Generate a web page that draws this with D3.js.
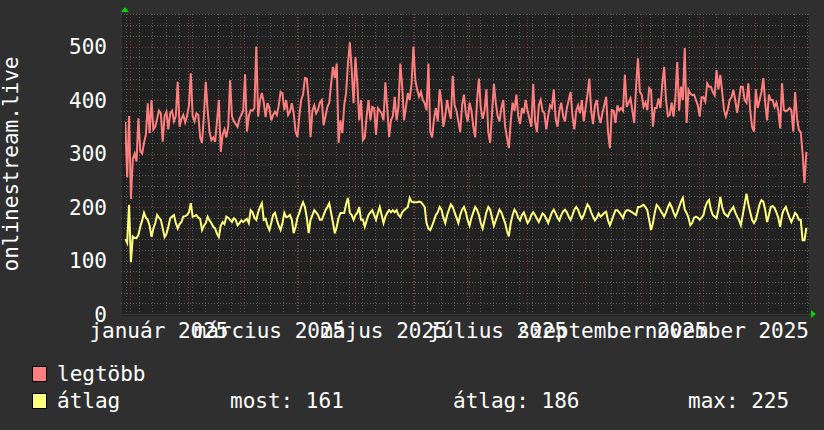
<!DOCTYPE html>
<html><head><meta charset="utf-8">
<script src="https://cdn.jsdelivr.net/npm/d3@7"></script>
<style>
html,body{margin:0;padding:0;background:#2f2f2f;}
svg{display:block;}
text{font-family:"DejaVu Sans Mono",monospace;fill:#ffffff;}
</style></head>
<body>
<svg id="chart" width="824" height="430"></svg>
<script>
// ---- data ----
const startDay = "2024-12-29"; // first daily sample
const yAxisTitle = "onlinestream.live";
const yTicks = [0, 100, 200, 300, 400, 500];
const monthLabels = ["január 2025", "március 2025", "május 2025", "július 2025", "szeptember 2025", "november 2025"];
const labelMonths = ["2025-01-01", "2025-03-01", "2025-05-01", "2025-07-01", "2025-09-01", "2025-11-01"];
const seriesNames = ["legtöbb", "átlag"];
const legendStats = ["most: 161", "átlag: 186", "max: 225"];

const maxValues = [
359,255,370,215,290,300,285,366,305,300,
320,335,394,338,400,345,350,365,380,375,
322,370,378,345,375,380,360,370,434,350,
365,372,358,370,390,450,370,360,375,372,
330,320,370,434,381,340,325,330,322,360,
400,303,335,345,330,350,437,370,360,355,
350,365,372,380,448,341,370,
381,380,385,500,369,400,413,395,368,394,
385,362,372,378,372,390,415,412,381,400,
372,378,394,375,341,331,370,400,410,441,
440,400,331,380,390,375,382,395,400,353,
370,387,395,430,462,441,468,320,362,338,
390,413,468,508,456,394,480,431,362,400,
325,330,370,400,362,387,385,335,385,380,
375,362,433,385,331,362,370,406,362,387,
468,425,362,387,413,400,431,500,437,419,
406,415,400,394,381,468,340,
330,365,385,360,420,395,350,370,400,380,
365,445,390,380,360,340,390,410,375,360,
395,380,350,330,400,440,385,365,380,420,
340,320,375,430,395,370,360,385,400,350,
330,310,360,395,380,410,370,355,385,375,
400,380,365,350,430,360,340,390,400,380,
375,345,370,390,385,420,365,350,380,395,
370,360,385,400,415,370,345,380,390,375,
400,360,385,410,440,380,355,390,400,370,
357,376,390,406,340,310,381,380,357,390,
380,385,380,447,387,395,403,380,357,425,
478,415,410,387,395,381,422,418,350,385,
385,403,385,430,462,400,370,372,395,369,
405,471,380,425,400,497,357,419,412,409,
410,400,390,369,405,405,397,431,425,425,
415,409,456,420,447,415,381,369,382,400,
405,419,400,376,400,425,425,400,395,431,
380,350,341,420,385,400,415,441,395,362,
410,400,400,387,395,380,347,431,381,379,
381,385,381,341,415,366,344,340,300,245,
303];

const avgValues = [
140,133,204,97,145,142,142,148,163,175,
189,180,176,165,144,160,170,185,180,176,
160,144,150,163,179,182,185,170,160,168,
172,182,183,185,190,207,182,183,185,180,
178,157,165,170,182,175,170,163,160,150,
144,165,172,168,182,180,176,172,179,176,
166,170,175,172,175,178,170,
194,190,180,176,190,200,207,176,178,165,
157,170,185,189,176,165,157,170,189,181,
182,185,176,151,163,180,189,200,209,200,
180,151,176,185,194,190,185,176,176,185,
194,200,207,189,170,151,163,180,189,189,
189,205,217,189,185,176,185,189,200,176,
176,163,175,185,190,194,185,176,189,200,
185,170,182,189,194,190,194,190,194,185,
181,190,194,197,200,217,210,209,209,209,
210,209,205,200,170,160,157,
165,175,185,190,200,195,180,170,185,195,
205,200,190,180,170,185,195,200,190,175,
165,180,190,200,195,185,170,160,175,190,
200,195,180,165,175,185,195,190,180,170,
155,145,170,185,195,190,180,175,185,190,
180,170,175,185,190,185,178,172,180,188,
185,178,170,180,190,195,188,180,175,185,
192,195,190,182,176,185,195,200,195,185,
178,185,195,205,200,190,182,175,180,188,
182,185,189,191,175,166,175,185,194,194,
190,185,179,190,194,194,192,190,187,185,
200,200,202,204,200,194,175,157,170,190,
204,200,194,188,182,190,200,207,200,190,
182,190,200,210,217,195,189,180,166,170,
180,182,180,176,180,185,200,209,213,195,
185,182,179,195,219,200,189,185,182,190,
195,200,190,182,176,166,185,205,225,205,
190,176,170,176,190,205,213,210,195,172,
185,200,202,198,190,180,163,185,195,200,
190,180,172,180,189,185,176,176,138,138,
161];

// ---- layout ----
const W = 824, H = 430;
const plot = {left: 125, right: 809, top: 14, bottom: 314};
const colors = {bg: "#2f2f2f", plotBg: "#212121", minor: "#5c5c5c", major: "#7d3a3a",
  max: "#ff7f7f", avg: "#ffff7f", arrow: "#00d000"};
const FONT = 21;

const svg = d3.select("#chart");
svg.append("rect").attr("width", W).attr("height", H).attr("fill", colors.bg);

const parse = d3.utcParse("%Y-%m-%d");
const t0 = parse(startDay);
const dates = maxValues.map((_, i) => d3.utcHour.offset(d3.utcDay.offset(t0, i), 12));

const x = d3.scaleUtc()
  .domain([d3.utcHour.offset(t0, 8), d3.utcHour.offset(d3.utcDay.offset(t0, 365), 22)])
  .range([plot.left, plot.right]);
const y = d3.scaleLinear().domain([0, 500]).range([plot.bottom, 46.5]);
const yTop = y.invert(plot.top);

svg.append("rect").attr("x", plot.left - 3).attr("y", plot.top)
  .attr("width", plot.right - plot.left + 3).attr("height", plot.bottom - plot.top + 2)
  .attr("fill", colors.plotBg);

const grid = svg.append("g");
d3.range(20, yTop, 20).filter(v => v % 100 !== 0).forEach(v => {
  grid.append("line").attr("x1", plot.left - 4).attr("x2", plot.right)
    .attr("y1", Math.round(y(v)) + 0.5).attr("y2", Math.round(y(v)) + 0.5)
    .attr("stroke", colors.minor).attr("stroke-dasharray", "1,2");
});
x.ticks(d3.utcMonday.every(1)).forEach(t => {
  grid.append("line").attr("x1", Math.round(x(t)) + 0.5).attr("x2", Math.round(x(t)) + 0.5)
    .attr("y1", plot.top).attr("y2", plot.bottom + 3)
    .attr("stroke", colors.minor).attr("stroke-dasharray", "1,2");
});
yTicks.filter(v => v > 0).forEach(v => {
  grid.append("line").attr("x1", plot.left - 4).attr("x2", plot.right)
    .attr("y1", Math.round(y(v)) + 0.5).attr("y2", Math.round(y(v)) + 0.5)
    .attr("stroke", colors.major).attr("stroke-dasharray", "1,2");
});
x.ticks(d3.utcMonth.every(1)).forEach(t => {
  grid.append("line").attr("x1", Math.round(x(t)) + 0.5).attr("x2", Math.round(x(t)) + 0.5)
    .attr("y1", plot.top).attr("y2", plot.bottom + 3)
    .attr("stroke", colors.major).attr("stroke-dasharray", "1,2");
});
svg.append("line").attr("x1", plot.left - 4).attr("x2", plot.right + 2)
  .attr("y1", plot.bottom + 0.5).attr("y2", plot.bottom + 0.5).attr("stroke", "#3a3a3a");

yTicks.forEach(v => {
  svg.append("text").attr("x", 107).attr("y", y(v) + 7.5)
    .attr("text-anchor", "end").attr("font-size", FONT).text(v);
});
svg.append("text").attr("transform", `translate(18,${(plot.top + plot.bottom) / 2}) rotate(-90)`)
  .attr("text-anchor", "middle").attr("font-size", FONT).text(yAxisTitle);

labelMonths.forEach((m, i) => {
  const a = parse(m), b = d3.utcMonth.offset(a, 1);
  const cx = (x(a) + x(b)) / 2;
  svg.append("text").attr("x", cx).attr("y", 338).attr("text-anchor", "middle")
    .attr("font-size", FONT).text(monthLabels[i]);
});

svg.append("clipPath").attr("id", "clip").append("rect")
  .attr("x", plot.left).attr("y", plot.top).attr("width", plot.right - plot.left).attr("height", plot.bottom - plot.top);

const line = d3.line().x((d, i) => x(dates[i])).y(d => y(d)).curve(d3.curveLinear);
const lines = svg.append("g").attr("clip-path", "url(#clip)");
lines.append("path").datum(maxValues).attr("d", line).attr("fill", "none")
  .attr("stroke", colors.max).attr("stroke-width", 2).attr("stroke-linejoin", "miter");
lines.append("path").datum(avgValues).attr("d", line).attr("fill", "none")
  .attr("stroke", colors.avg).attr("stroke-width", 2).attr("stroke-linejoin", "miter");

svg.append("path").attr("d", `M${plot.left - 4},${plot.top - 2} L${plot.left + 4},${plot.top - 2} L${plot.left},${plot.top - 7} Z`)
  .attr("fill", colors.arrow);
svg.append("path").attr("d", `M${plot.right + 2},${plot.bottom - 4} L${plot.right + 2},${plot.bottom + 4} L${plot.right + 7},${plot.bottom} Z`)
  .attr("fill", colors.arrow);

const leg = [{c: colors.max, y: 366, ty: 381}, {c: colors.avg, y: 393, ty: 408}];
leg.forEach((l, i) => {
  svg.append("rect").attr("x", 32.5).attr("y", l.y + 0.5).attr("width", 14).attr("height", 15)
    .attr("fill", l.c).attr("stroke", "#000").attr("stroke-width", 1);
  svg.append("text").attr("x", 57).attr("y", l.ty).attr("font-size", FONT).text(seriesNames[i]);
});
[230, 453, 688].forEach((px, i) => {
  svg.append("text").attr("x", px).attr("y", 408).attr("font-size", FONT).text(legendStats[i]);
});
</script>
</body></html>
